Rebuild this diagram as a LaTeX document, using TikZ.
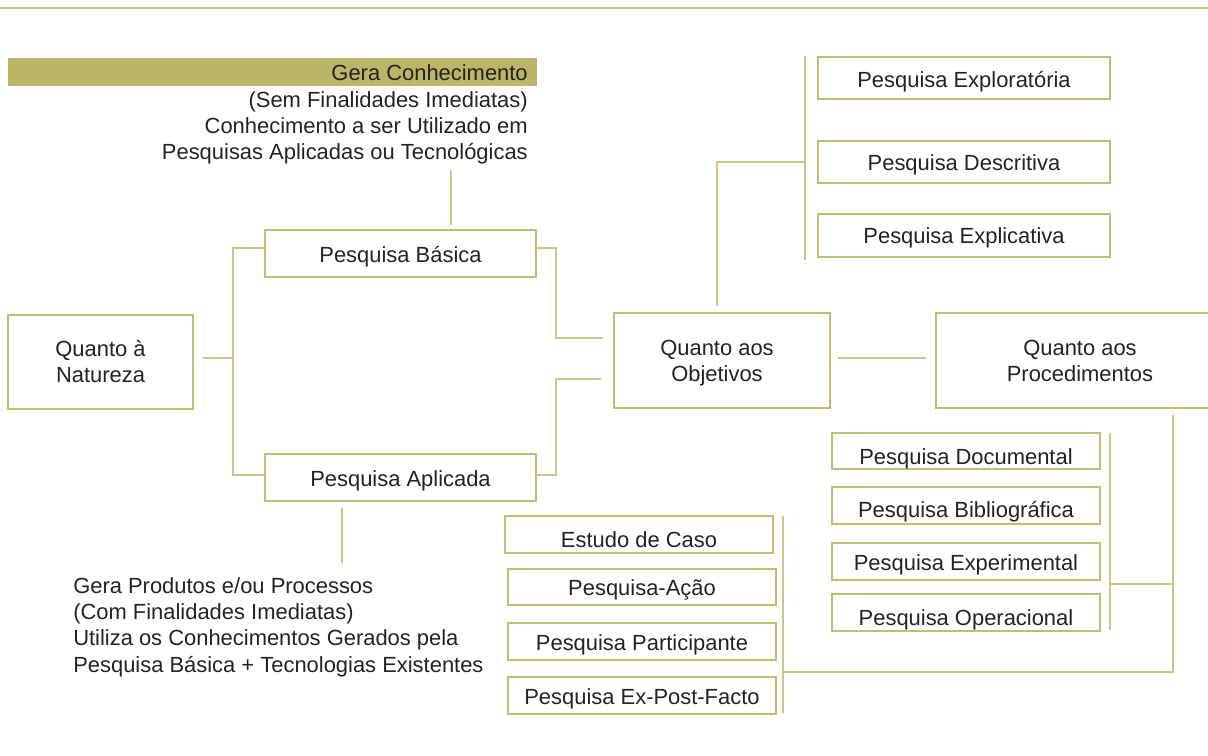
\documentclass[tikz,border=0pt]{standalone}
\usepackage{fontspec}
\setmainfont{Liberation Sans}
\definecolor{boxc}{RGB}{196,188,112}
\definecolor{linec}{RGB}{204,198,136}
\definecolor{hl}{RGB}{188,181,104}
\definecolor{txt}{RGB}{35,35,35}
\begin{document}
\begin{tikzpicture}[x=0.75pt,y=-0.75pt,
  font=\fontsize{16.45pt}{19.75pt}\selectfont, text=txt,
  box/.style={draw=boxc, line width=1.5pt, inner sep=0pt},
  one/.style={box, text height=#1, text depth=1pt},
  one/.default=12.7pt,
  two/.style={box, align=center, text height=34.8pt, text depth=3.4pt},
  conn/.style={draw=linec, line width=1.5pt}]
\useasboundingbox (0,0) rectangle (1208,756);
\clip (0,0) rectangle (1208,756);

% top rule
\draw[linec, line width=1pt] (0,8) -- (1208,8);

% top note
\fill[hl] (8,58) rectangle (537,86);
\node[anchor=base east, align=right, inner sep=0pt] (topnote) at (528,160)
  {Gera Conhecimento\\(Sem Finalidades Imediatas)\\Conhecimento a ser Utilizado em\\Pesquisas Aplicadas ou Tecnológicas};

% bottom note
\node[anchor=base west, align=left, inner sep=0pt] (botnote) at (73,672)
  {Gera Produtos e/ou Processos\\(Com Finalidades Imediatas)\\Utiliza os Conhecimentos Gerados pela\\Pesquisa Básica + Tecnologias Existentes};

% main boxes
\node[two, minimum width={185*0.75pt}, minimum height={94*0.75pt}] (natureza) at (100.5,362) {Quanto à\\Natureza};
\node[one=14.9pt, minimum width={271*0.75pt}, minimum height={47*0.75pt}] (basica) at (400.5,253.5) {Pesquisa Básica};
\node[one=14.9pt, minimum width={271*0.75pt}, minimum height={47*0.75pt}] (aplicada) at (400.5,477.5) {Pesquisa Aplicada};
\node[two, minimum width={216*0.75pt}, minimum height={95*0.75pt}] (objetivos) at (722,360.5) {Quanto aos\hspace*{7.5pt}\\Objetivos\hspace*{7.5pt}};
\node[two, minimum width={288*0.75pt}, minimum height={95*0.75pt}] (procedimentos) at (1080,360.5) {Quanto aos\\Procedimentos};

% objetivos group
\node[one=15.7pt, minimum width={292*0.75pt}, minimum height={42*0.75pt}] (explor) at (964,78) {Pesquisa Exploratória};
\node[one=14.2pt, minimum width={292*0.75pt}, minimum height={42*0.75pt}] (descr) at (964,162) {Pesquisa Descritiva};
\node[one=13.1pt, minimum width={292*0.75pt}, minimum height={43*0.75pt}] (explic) at (964,235.5) {Pesquisa Explicativa};

% procedimentos group (right)
\node[one=21.7pt, minimum width={268*0.75pt}, minimum height={36*0.75pt}] (doc) at (966,451) {Pesquisa Documental};
\node[one=19.5pt, minimum width={268*0.75pt}, minimum height={37*0.75pt}] (biblio) at (966,505.5) {Pesquisa Bibliográfica};
\node[one=14.9pt, minimum width={268*0.75pt}, minimum height={37*0.75pt}] (exper) at (966,561.5) {Pesquisa Experimental};
\node[one=20.9pt, minimum width={268*0.75pt}, minimum height={37*0.75pt}] (oper) at (966,612.5) {Pesquisa Operacional};

% procedimentos group (left)
\node[one=20.9pt, minimum width={268*0.75pt}, minimum height={37*0.75pt}] (caso) at (639,534.5) {Estudo de Caso};
\node[one=14.2pt, minimum width={268*0.75pt}, minimum height={36*0.75pt}] (acao) at (642,587) {Pesquisa-Ação};
\node[one=14.9pt, minimum width={268*0.75pt}, minimum height={37*0.75pt}] (partic) at (642,641.5) {Pesquisa Participante};
\node[one=14.9pt, minimum width={268*0.75pt}, minimum height={37*0.75pt}] (expost) at (642,695.5) {Pesquisa Ex-Post-Facto};

% connectors
\draw[conn] (451,170) -- (451,225);
\draw[conn] (342,508) -- (342,563);
\draw[conn] (203,358) -- (233,358);
\draw[conn] (265,248) -- (233,248) -- (233,475) -- (265,475);
\draw[conn] (536,248) -- (556,248) -- (556,338) -- (603,338);
\draw[conn] (536,475) -- (556,475) -- (556,379) -- (601,379);
\draw[conn] (717,306) -- (717,162) -- (805,162);
\draw[conn] (805,56) -- (805,260);
\draw[conn] (838,358) -- (926,358);
\draw[conn] (1173,415) -- (1173,672) -- (783,672);
\draw[conn] (783,516) -- (783,713);
\draw[conn] (1173,584) -- (1110,584);
\draw[conn] (1110,433) -- (1110,630);
\end{tikzpicture}
\end{document}
